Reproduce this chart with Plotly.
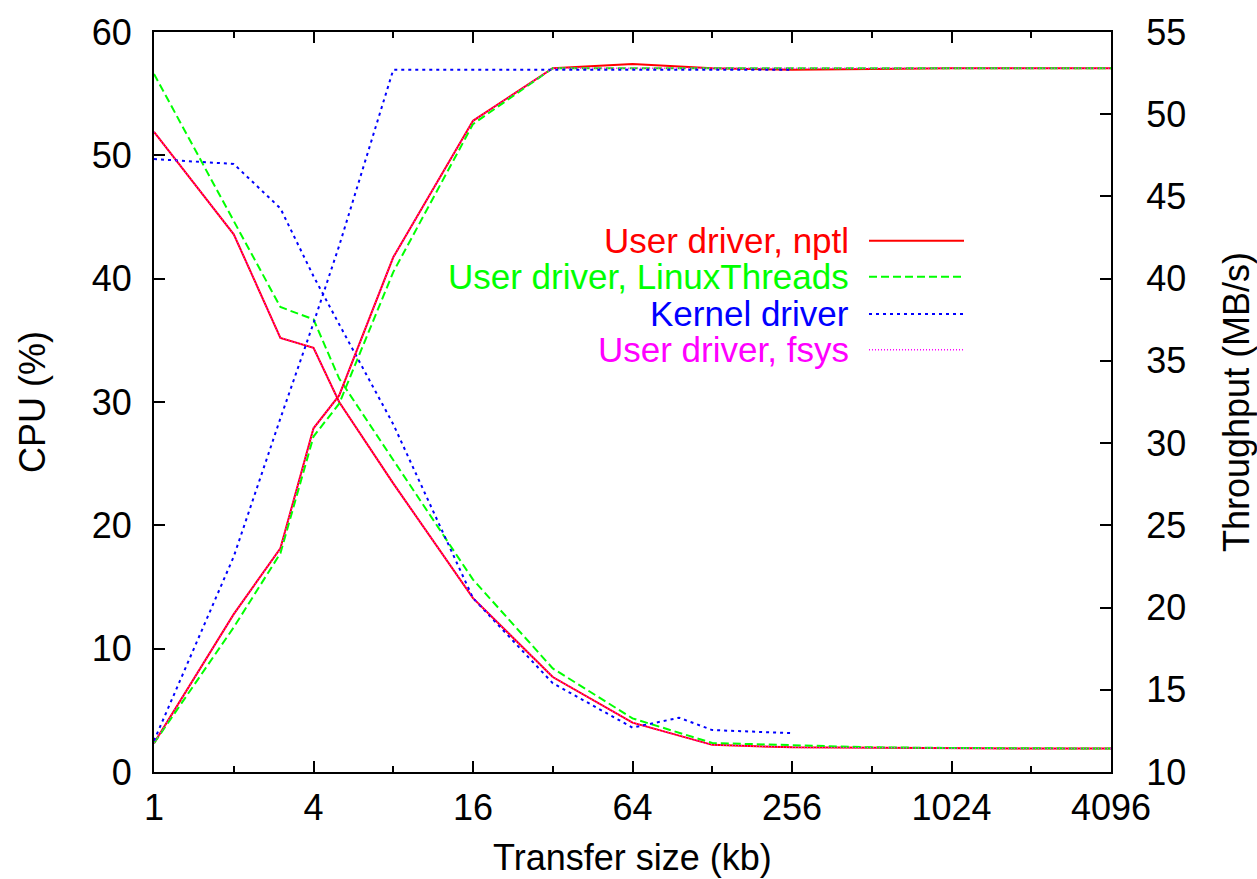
import plotly.graph_objects as go

# ---------------- data ----------------
sizes = [1, 2, 3, 4, 5, 8, 16, 32, 64, 128, 256, 512, 1024, 2048, 4096]
kernel_sizes = [1, 2, 3, 4, 5, 8, 16, 32, 64, 96, 128, 256]

nptl_cpu = [51.9, 43.6, 35.2, 34.4, 30.0, 23.4, 14.1, 7.7, 4.0, 2.2, 2.0, 1.95, 1.9, 1.9, 1.9]
lt_cpu = [56.6, 44.7, 37.7, 36.7, 31.9, 25.3, 15.6, 8.4, 4.35, 2.35, 2.15, 2.0, 1.95, 1.9, 1.9]
kern_cpu = [49.7, 49.3, 45.7, 40.2, 36.3, 28.2, 14.1, 7.2, 3.6, 4.4, 3.4, 3.15]
fsys_cpu = [51.9, 43.6, 35.2, 34.4, 30.0, 23.4, 14.1, 7.7, 4.0, 2.2, 2.0, 1.95, 1.9, 1.9, 1.9]

nptl_tp = [11.75, 19.6, 23.6, 30.9, 32.9, 41.3, 49.6, 52.8, 53.05, 52.8, 52.7, 52.75, 52.8, 52.8, 52.8]
lt_tp = [11.75, 18.8, 23.3, 30.4, 32.4, 40.4, 49.4, 52.8, 52.8, 52.8, 52.8, 52.8, 52.8, 52.8, 52.8]
kern_tp = [11.9, 23.1, 31.5, 37.3, 42.0, 52.7, 52.7, 52.7, 52.7, 52.7, 52.7, 52.7]
fsys_tp = [11.75, 19.6, 23.6, 30.9, 32.9, 41.3, 49.6, 52.8, 52.8, 52.8, 52.8, 52.8, 52.8, 52.8, 52.8]

x_major = [1, 4, 16, 64, 256, 1024, 4096]
x_major_labels = ["1", "4", "16", "64", "256", "1024", "4096"]
x_minor = [2, 8, 32, 128, 512, 2048]
y_left_ticks = [0, 10, 20, 30, 40, 50, 60]
y_right_ticks = [10, 15, 20, 25, 30, 35, 40, 45, 50, 55]

legend_names = ["User driver, nptl", "User driver, LinuxThreads", "Kernel driver", "User driver, fsys"]
colors = ["#ff0000", "#00ff00", "#0000ff", "#ff00ff"]
dashes = ["solid", "8px,4px", "3px,4px", "1px,2px"]
widths = [2, 2, 2, 1.5]

FONT = "Liberation Sans, Arial, Helvetica, sans-serif"
FS = 36
LEG_FS = 35

series = [
    (sizes, nptl_cpu, nptl_tp),
    (sizes, lt_cpu, lt_tp),
    (kernel_sizes, kern_cpu, kern_tp),
    (sizes, fsys_cpu, fsys_tp),
]

fig = go.Figure()
for i, (xs, cpu, tp) in enumerate(series):
    line = dict(color=colors[i], dash=dashes[i], width=widths[i])
    fig.add_trace(go.Scatter(x=xs, y=cpu, mode="lines", line=line,
                             name=legend_names[i], showlegend=False, yaxis="y"))
    fig.add_trace(go.Scatter(x=xs, y=tp, mode="lines", line=line,
                             name=legend_names[i], showlegend=False, yaxis="y2"))

W, H = 1257, 879
L, R, T, B = 154, 146, 28, 107
pw, ph = W - L - R, H - T - B


def px(xp):
    return (xp - L) / pw


def py(yp):
    return (H - B - yp) / ph


tickfont = dict(family=FONT, size=FS, color="black")

fig.update_layout(
    width=W, height=H,
    margin=dict(l=L, r=R, t=T, b=B),
    paper_bgcolor="white", plot_bgcolor="white",
    showlegend=False,
    xaxis=dict(
        type="log", range=[0, 3.61236], tickmode="array",
        tickvals=x_major, ticktext=x_major_labels,
        ticks="inside", ticklen=11, tickwidth=2, tickcolor="black",
        minor=dict(tickmode="array", tickvals=x_minor, ticks="inside",
                   ticklen=6, tickwidth=2, tickcolor="black", showgrid=False),
        showline=True, linewidth=2, linecolor="black", mirror="ticks",
        showgrid=False, zeroline=False, tickfont=tickfont,
        ticklabelstandoff=3,
    ),
    yaxis=dict(
        range=[0, 60], tickmode="array", tickvals=y_left_ticks,
        ticks="inside", ticklen=11, tickwidth=2, tickcolor="black",
        showline=True, linewidth=2, linecolor="black",
        showgrid=False, zeroline=False, tickfont=tickfont,
        ticklabelstandoff=13,
    ),
    yaxis2=dict(
        range=[10, 55], tickmode="array", tickvals=y_right_ticks,
        overlaying="y", side="right",
        ticks="inside", ticklen=11, tickwidth=2, tickcolor="black",
        showline=True, linewidth=2, linecolor="black",
        showgrid=False, zeroline=False, tickfont=tickfont,
        ticklabelstandoff=26,
    ),
)

annots = [
    dict(text="CPU (%)", x=px(32), y=0.5, textangle=-90),
    dict(text="Throughput (MB/s)", x=px(1236), y=0.5, textangle=-90),
    dict(text="Transfer size (kb)", x=0.5, y=py(858)),
]
for a in annots:
    fig.add_annotation(xref="paper", yref="paper", showarrow=False,
                       xanchor="center", yanchor="middle",
                       font=dict(family=FONT, size=FS, color="black"), **a)

leg_y = [238, 274, 311.5, 347.5]
for i, name in enumerate(legend_names):
    fig.add_annotation(xref="paper", yref="paper", showarrow=False,
                       x=px(850), y=py(leg_y[i]), xanchor="right", yanchor="middle",
                       borderpad=0,
                       text=name, font=dict(family=FONT, size=LEG_FS, color=colors[i]))
    fig.add_shape(type="line", xref="paper", yref="paper",
                  x0=px(869), x1=px(964), y0=py(leg_y[i]), y1=py(leg_y[i]),
                  line=dict(color=colors[i], dash=dashes[i], width=widths[i]))

fig.write_html("out.html")
